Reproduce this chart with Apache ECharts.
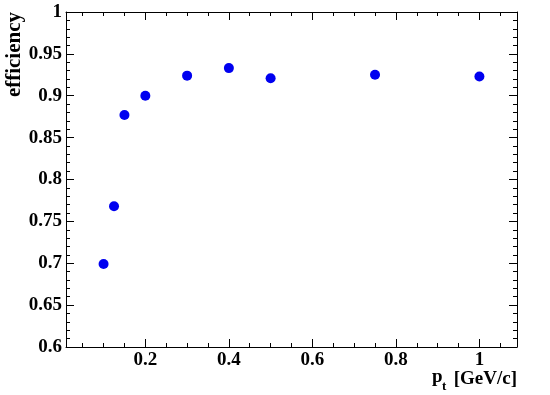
<!DOCTYPE html>
<html>
<head>
<meta charset="utf-8">
<script src="https://cdn.jsdelivr.net/npm/echarts@6/dist/echarts.min.js"></script>
<style>html,body{margin:0;padding:0;background:#fff;}#c{width:550px;height:395px;}</style>
</head>
<body>
<div id="c"></div>
<script>
// data
const ptValues = [0.1, 0.125, 0.15, 0.2, 0.3, 0.4, 0.5, 0.75, 1.0];
const efficiencyValues = [0.699, 0.768, 0.877, 0.900, 0.924, 0.933, 0.921, 0.925, 0.923];
const xTickLabels = [0.2, 0.4, 0.6, 0.8, 1.0];
const xRange = [0.01, 1.09];
const yRange = [0.6, 1.0];
const yTickStep = 0.05;
const xMinorStep = 0.05;

const FONT = '"Liberation Serif", "Times New Roman", serif';
const chart = echarts.init(document.getElementById('c'));

const xMinor = [];
for (let i = 1; i * xMinorStep < xRange[1]; i++) {
  const v = +(i * xMinorStep).toFixed(3);
  if (v > xRange[0] && !xTickLabels.some(m => Math.abs(m - v) < 1e-9)) xMinor.push(v);
}

const lineStyle = { color: '#000', width: 1 };
function xAx(pos, values, len, showLabel, showLine) {
  return {
    type: 'value', position: pos, min: xRange[0], max: xRange[1],
    axisLine: { show: showLine, onZero: false, lineStyle },
    splitLine: { show: false },
    axisTick: { show: true, inside: true, length: len, customValues: values, lineStyle },
    axisLabel: {
      show: showLabel, customValues: values, margin: 4,
      fontFamily: FONT, fontWeight: 'bold', fontSize: 19, color: '#000',
      formatter: v => String(+(+v).toFixed(2))
    }
  };
}
function yAx(pos, showLabel) {
  return {
    type: 'value', position: pos, min: yRange[0], max: yRange[1], interval: yTickStep,
    axisLine: { show: true, onZero: false, lineStyle },
    splitLine: { show: false },
    axisTick: { show: true, inside: true, length: 8, lineStyle },
    minorTick: { show: true, splitNumber: 5, length: 4, lineStyle },
    axisLabel: {
      show: showLabel, margin: 4,
      fontFamily: FONT, fontWeight: 'bold', fontSize: 19, color: '#000',
      formatter: v => String(+(+v).toFixed(2))
    }
  };
}

chart.setOption({
  animation: false,
  grid: { left: 66, top: 12, right: 33, bottom: 48, containLabel: false },
  xAxis: [
    xAx('bottom', xTickLabels, 8, true, true),
    xAx('bottom', xMinor, 4, false, false),
    xAx('top', xTickLabels, 8, false, true),
    xAx('top', xMinor, 4, false, false)
  ],
  yAxis: [yAx('left', true), yAx('right', false)],
  graphic: [
    { type: 'text', x: 15, y: 12, rotation: Math.PI / 2,
      style: { text: 'efficiency', font: 'bold 21px ' + FONT, fill: '#000', textAlign: 'right', textVerticalAlign: 'middle' } },
    { type: 'text', x: 517, y: 379,
      style: { text: '[GeV/c]', font: 'bold 19px ' + FONT, fill: '#000', textAlign: 'right', textVerticalAlign: 'middle' } },
    { type: 'text', x: 432, y: 377,
      style: { text: 'p', font: 'bold 19px ' + FONT, fill: '#000', textAlign: 'left', textVerticalAlign: 'middle' } },
    { type: 'text', x: 442, y: 387,
      style: { text: 't', font: 'bold 13px ' + FONT, fill: '#000', textAlign: 'left', textVerticalAlign: 'middle' } }
  ],
  series: [{
    type: 'scatter', xAxisIndex: 0, yAxisIndex: 0,
    symbol: 'circle', symbolSize: 10,
    itemStyle: { color: '#0000f0', opacity: 1 },
    data: ptValues.map((x, i) => [x, efficiencyValues[i]])
  }]
});
</script>
</body>
</html>
